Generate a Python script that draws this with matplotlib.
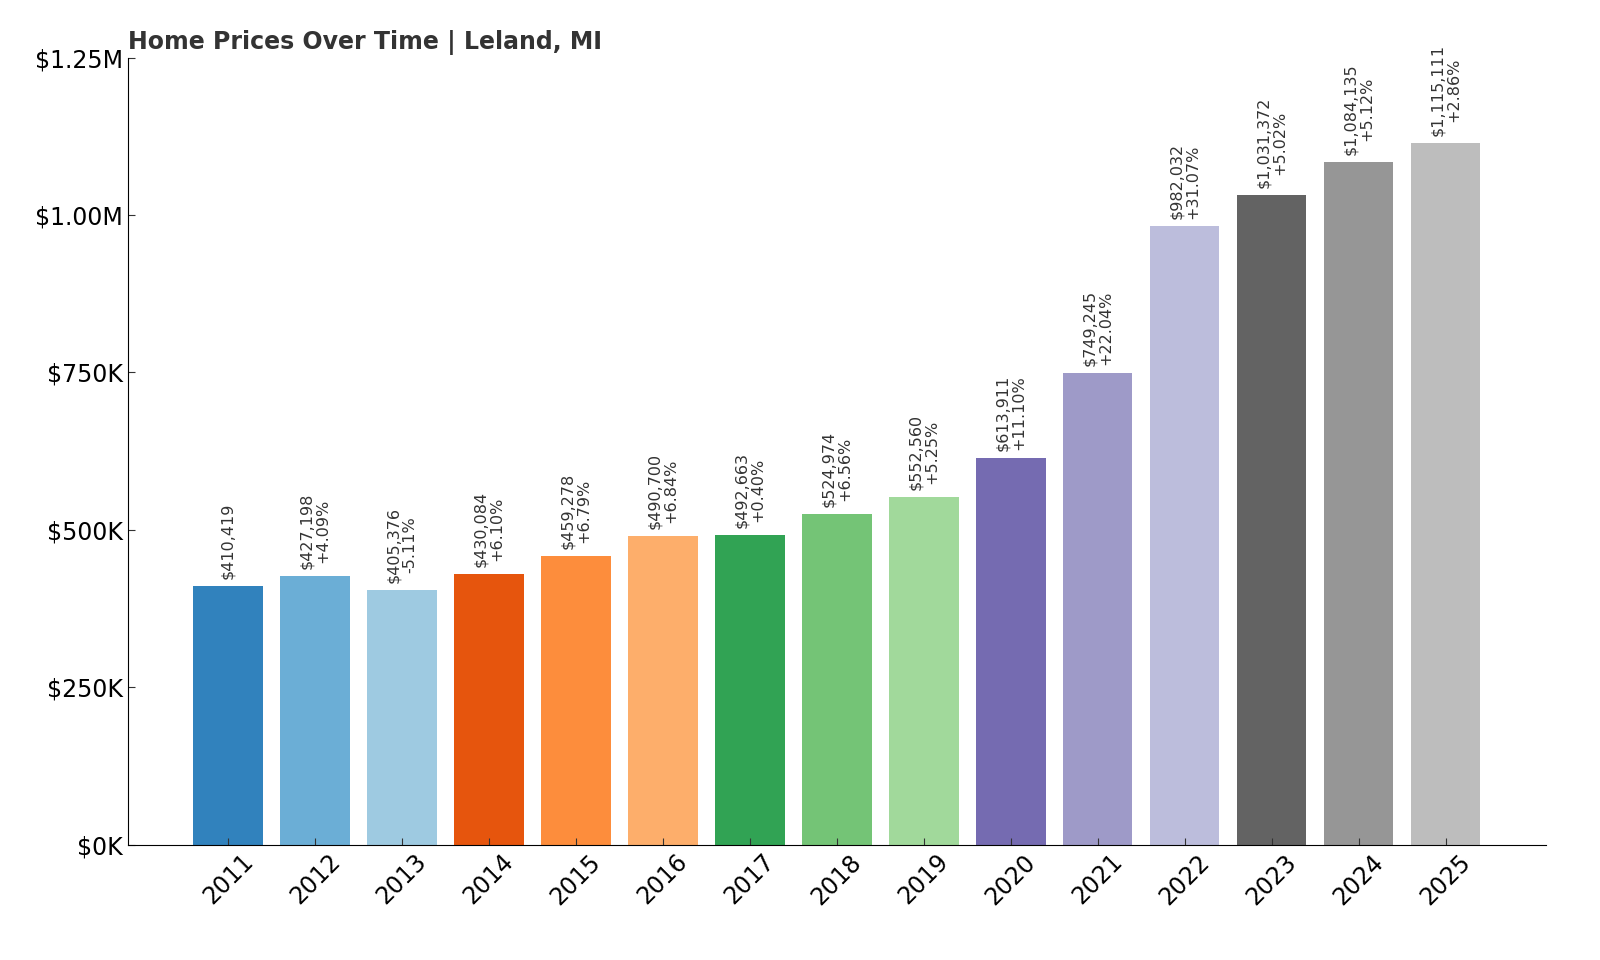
import matplotlib
matplotlib.use("Agg")
import matplotlib.pyplot as plt

years = ["2011","2012","2013","2014","2015","2016","2017","2018","2019","2020","2021","2022","2023","2024","2025"]
prices = [410419,427198,405376,430084,459278,490700,492663,524974,552560,613911,749245,982032,1031372,1084135,1115111]
pcts = [None,"+4.09%","-5.11%","+6.10%","+6.79%","+6.84%","+0.40%","+6.56%","+5.25%","+11.10%","+22.04%","+31.07%","+5.02%","+5.12%","+2.86%"]
colors = ["#3182bd","#6baed6","#9ecae1","#e6550d","#fd8d3c","#fdae6b","#31a354","#74c476","#a1d99b",
          "#756bb1","#9e9ac8","#bcbddc","#636363","#969696","#bdbdbd"]
yticks = [0,250000,500000,750000,1000000,1250000]
ytick_labels = ["$0K","$250K","$500K","$750K","$1.00M","$1.25M"]

fig = plt.figure(figsize=(16,9.6), dpi=100)
ax = fig.add_axes([0.08, 0.12, 0.886, 0.82])
x = list(range(len(years)))
ax.bar(x, prices, width=0.8, color=colors)
for i, p in enumerate(prices):
    txt = f"${p:,}" if pcts[i] is None else f"${p:,}\n{pcts[i]}"
    ax.annotate(txt, (i, p), xytext=(0, 5), textcoords="offset points", rotation=90,
                ha="center", va="bottom", fontsize=11.5, color="#333333", linespacing=1.1)
ax.set_xlim(-1.15, 14.15 + 1)
ax.set_ylim(0, 1250000)
ax.set_yticks(yticks)
ax.set_yticklabels(ytick_labels, fontsize=17)
ax.set_xticks(x)
ax.set_xticklabels(years, rotation=45, fontsize=17)
ax.tick_params(axis="both", direction="in", length=5, color="#333333")
for s in ["top","right"]:
    ax.spines[s].set_visible(False)
ax.set_title("Home Prices Over Time | Leland, MI", loc="left", fontsize=17, fontweight="bold",
             color="#333333", pad=6)
fig.savefig("out.png", dpi=100)
